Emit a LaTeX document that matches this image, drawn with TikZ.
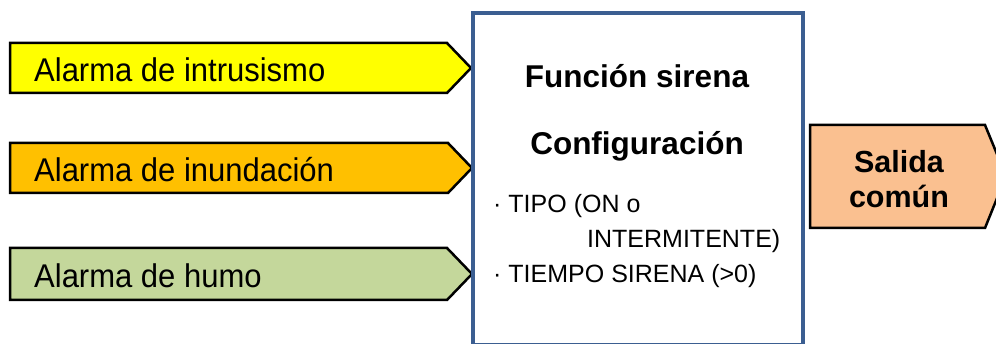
\documentclass[tikz,border=0pt]{standalone}
\usepackage{fontspec}
\setmainfont{Liberation Sans}
\definecolor{cyel}{HTML}{FFFF00}
\definecolor{corg}{HTML}{FFC000}
\definecolor{cgrn}{HTML}{C4D79B}
\definecolor{csal}{HTML}{FAC090}
\definecolor{cbox}{HTML}{3B5E91}
\newcommand{\tallx}[1]{\scalebox{1}[1.06]{#1}}
\begin{document}
\begin{tikzpicture}[x=1pt,y=-1pt,
  sig/.style={draw=black,line width=2.5pt,line join=miter},
  lbl/.style={anchor=base west,inner sep=0pt,font=\fontsize{31}{37}\selectfont},
  ttl/.style={anchor=base,inner sep=0pt,font=\fontsize{31.5}{37}\selectfont\bfseries},
  itm/.style={anchor=base west,inner sep=0pt,font=\fontsize{25}{30}\selectfont},
  outl/.style={anchor=base,inner sep=0pt,font=\fontsize{30.5}{35}\selectfont\bfseries}]
\useasboundingbox (0,0) rectangle (996,344);
\clip (0,0) rectangle (996,344);
% input signals
\draw[sig,fill=cyel] (10,43) -- (447,43) -- (471,68) -- (447,93) -- (10,93) -- cycle;
\draw[sig,fill=corg] (10,143) -- (448,143) -- (472,168) -- (448,193) -- (10,193) -- cycle;
\draw[sig,fill=cgrn] (10,248) -- (447,248) -- (472,274) -- (447,300) -- (10,300) -- cycle;
\node[lbl] (a1) at (34,82) {\tallx{Alarma de intrusismo}};
\node[lbl] (a2) at (34,182) {\tallx{Alarma de inundación}};
\node[lbl] (a3) at (34,288) {\tallx{Alarma de humo}};
% output signal
\draw[sig,fill=csal] (810,125) -- (985,125) -- (1006,176) -- (985,228) -- (810,228) -- cycle;
\node[outl] (o1) at (899,173) {Salida};
\node[outl] (o2) at (899,208) {común};
% function box
\draw[draw=cbox,line width=4pt,fill=white] (473,13) rectangle (803,345.5);
\node[ttl] (t1) at (637,88) {Función sirena};
\node[ttl] (t2) at (637,155) {Configuración};
\node[itm] (i1) at (493,213) {· TIPO (ON o};
\node[itm] (i2) at (587,248) {INTERMITENTE)};
\node[itm] (i3) at (493,283) {· TIEMPO SIRENA (>0)};
\end{tikzpicture}
\end{document}
